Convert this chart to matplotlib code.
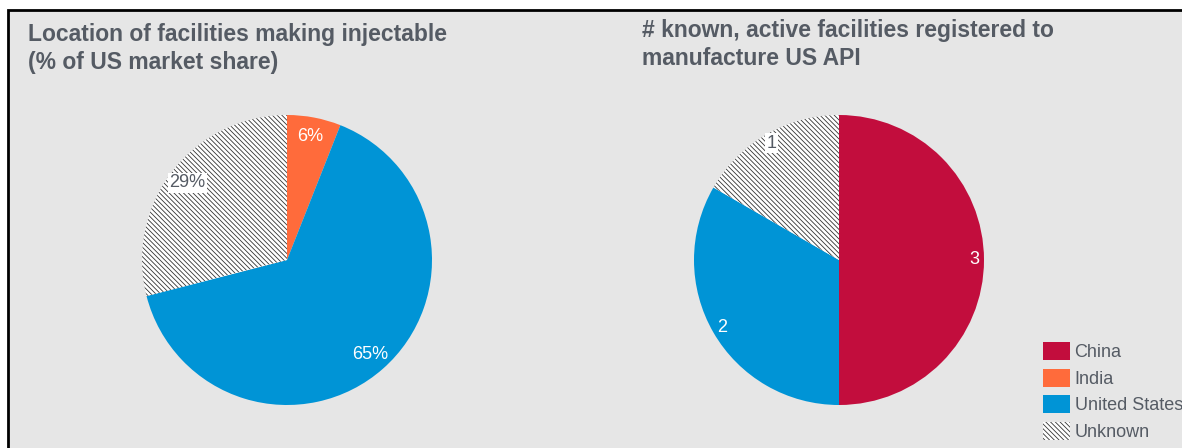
import matplotlib.pyplot as plt
from matplotlib.patches import Patch, Rectangle

plt.rcParams['font.family'] = ['Liberation Sans', 'DejaVu Sans']
plt.rcParams['hatch.linewidth'] = 0.6

# data
share_labels = ['India', 'United States', 'Unknown']
share_values = [6, 65, 29]
count_labels = ['China', 'United States', 'Unknown']
count_values = [3, 2, 1]

legend_labels = ['China', 'India', 'United States', 'Unknown']
colors = {'China': '#c20d3d', 'India': '#ff6b3b', 'United States': '#0094d6', 'Unknown': 'white'}

title_left = 'Location of facilities making injectable\n(% of US market share)'
title_right = '# known, active facilities registered to\nmanufacture US API'

W, H = 1182, 448
fig = plt.figure(figsize=(W / 100, H / 100), dpi=100, facecolor='white')

# grey panel with black frame
fig.patches.append(Rectangle((8 / W, -0.1), 1.2, 1.1 - 10 / H, transform=fig.transFigure,
                             facecolor='#e6e6e6', edgecolor='black', linewidth=2.0, zorder=-10))

txt_grey = '#555b64'
hatch = '\\\\\\\\\\\\\\'
fig.text(28 / W, 1 - 23 / H, title_left, fontsize=16.5, fontweight='bold', color=txt_grey,
         va='top', ha='left', linespacing=1.3)
fig.text(642 / W, 1 - 19 / H, title_right, fontsize=16.5, fontweight='bold', color=txt_grey,
         va='top', ha='left', linespacing=1.3)


def draw_pie(ax, labels, values, fmt, dist):
    wedges, _, autotexts = ax.pie(values, colors=[colors[l] for l in labels], startangle=90,
                                  counterclock=False, autopct=fmt, pctdistance=dist,
                                  wedgeprops=dict(linewidth=0, edgecolor='#333333'),
                                  textprops=dict(fontsize=13, color='white'))
    for w, t, l in zip(wedges, autotexts, labels):
        if l == 'Unknown':
            w.set_hatch(hatch)
            t.set_color('#555b64')
            t.set_bbox(dict(facecolor='white', edgecolor='none', pad=1.2))
    ax.set_xlim(-1, 1)
    ax.set_ylim(-1, 1)
    ax.set_aspect('equal')
    ax.axis('off')


r = 145
ax1 = fig.add_axes([(287 - r) / W, (H - 260 - r) / H, 2 * r / W, 2 * r / H])
draw_pie(ax1, share_labels, share_values, lambda p: f'{p:.0f}%', 0.87)

total = sum(count_values)
ax2 = fig.add_axes([(839 - r) / W, (H - 260 - r) / H, 2 * r / W, 2 * r / H])
draw_pie(ax2, count_labels, count_values, lambda p: f'{p * total / 100:.0f}', 0.93)

handles = []
for l in legend_labels:
    if l == 'Unknown':
        handles.append(Patch(facecolor='white', edgecolor='#333333', linewidth=0, hatch=hatch, label=l))
    else:
        handles.append(Patch(facecolor=colors[l], edgecolor='none', label=l))
fig.legend(handles=handles, loc='upper left', bbox_to_anchor=(1043 / W, 1 - 342 / H),
           frameon=False, fontsize=13, labelcolor=txt_grey, handlelength=1.5, handleheight=1.15,
           handletextpad=0.25, labelspacing=0.42, borderpad=0, borderaxespad=0)

fig.savefig('out.png', dpi=100, facecolor=fig.get_facecolor())
